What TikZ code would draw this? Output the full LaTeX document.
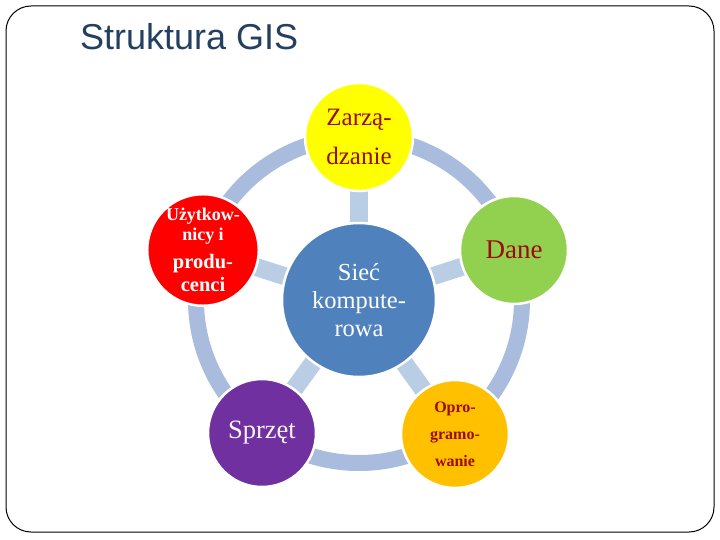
\documentclass[tikz,border=0pt]{standalone}
\usepackage{fontspec}
\setmainfont{Liberation Serif}
\newfontfamily\titlefont{Liberation Sans}
\usetikzlibrary{backgrounds}
\definecolor{titleblue}{HTML}{243F60}
\definecolor{ringcol}{HTML}{A9BCDD}
\definecolor{spokecol}{HTML}{B9CDE5}
\definecolor{darkredtxt}{HTML}{9C0A0A}
\definecolor{cblue}{HTML}{4F81BD}
\definecolor{cyellow}{HTML}{FFFF00}
\definecolor{cgreen}{HTML}{92D050}
\definecolor{corange}{HTML}{FFC000}
\definecolor{cpurple}{HTML}{7030A0}
\definecolor{cred}{HTML}{FF0000}
\tikzset{
  bubble/.style={circle, draw=white, line width=2.5pt, minimum size=108pt, inner sep=0pt, align=center},
  hub/.style={circle, draw=white, line width=2.5pt, minimum size=154pt, inner sep=0pt, align=center, fill=cblue, text=white,
    font=\fontsize{24.5}{28}\selectfont},
  spoke/.style={line width=18pt, draw=spokecol},
  ringline/.style={line width=16pt, draw=ringcol},
}
\begin{document}
\begin{tikzpicture}[x=1pt,y=-1pt]
\useasboundingbox (0,0) rectangle (720,540);
\draw[rounded corners=25pt, line width=1pt] (6,6) rectangle (714,532);
\node[anchor=base west, font=\titlefont\fontsize{36}{40}\selectfont, text=titleblue, inner sep=0pt] (title) at (80,50) {Struktura GIS};

\node[hub] (c) at (359,300) {Sieć\\kompute-\\rowa};
\node[bubble, fill=cyellow, text=darkredtxt, font=\fontsize{25}{39}\selectfont] (z) at (359,137) {Zarzą-\\dzanie};
\node[bubble, fill=cgreen, text=darkredtxt, font=\fontsize{27}{30}\selectfont] (d) at (514,250) {Dane};
\node[bubble, fill=corange, text=darkredtxt, font=\bfseries\fontsize{16}{27}\selectfont] (o) at (455,434) {Opro-\\gramo-\\wanie};
\node[bubble, fill=cpurple, text=white!95!cpurple, font=\fontsize{26.5}{30}\selectfont] (s) at (262,433) {Sprzęt};
\node[bubble, fill=cred, text=white, font=\bfseries\fontsize{18}{20}\selectfont] (u) at (203,250)
  {Użytkow-\\nicy i\\[8pt]{\fontsize{20.5}{22}\selectfont produ-}\\[3pt]{\fontsize{20.5}{22}\selectfont cenci}};

\begin{scope}[on background layer]
  \draw[ringline] (c.center) circle [radius=163pt];
  \foreach \n in {z,d,o,s,u} { \draw[spoke] (c.center) -- (\n.center); }
\end{scope}
\end{tikzpicture}
\end{document}
